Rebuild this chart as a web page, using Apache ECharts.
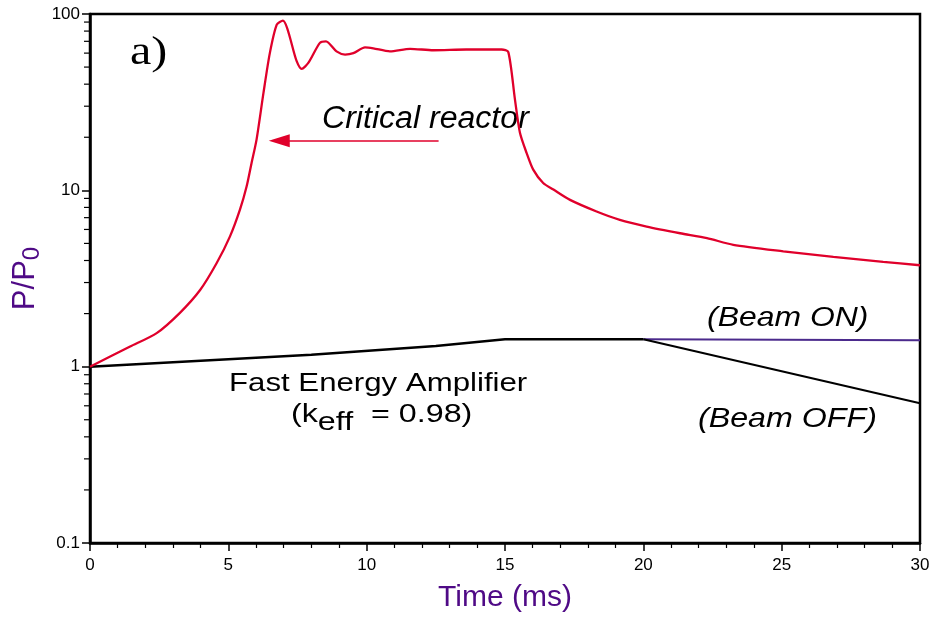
<!DOCTYPE html>
<html><head><meta charset="utf-8">
<script src="https://cdn.jsdelivr.net/npm/echarts@6/dist/echarts.min.js"></script>
<style>html,body{margin:0;padding:0;background:#fff}#c{width:935px;height:619px}</style>
</head><body><div id="c"></div>
<script>
// Critical reactor P/P0 vs time (ms)
var criticalT = [0, 1.45, 2.41, 3.25, 3.98, 4.58, 5.06, 5.42, 5.66, 5.84, 6.02, 6.27, 6.5, 6.75, 6.97, 7.47, 7.65, 7.89, 8.31, 8.53, 8.91, 9.22, 9.52, 9.94, 10.24, 10.84, 11.57, 12.41, 13.6, 14.88, 15.12, 15.36, 15.54, 15.78, 16.02, 16.38, 16.75, 17.35, 18.31, 19.15, 20.12, 21.33, 22.3, 23.25, 25.06, 26.87, 28.67, 30];
var criticalP = [1.0, 1.30, 1.55, 2.02, 2.72, 3.87, 5.48, 7.77, 10.5, 14.3, 19.4, 35.7, 60, 87, 91.7, 54, 48.8, 52.8, 68.6, 70, 61.4, 58.9, 60, 64.7, 63.9, 61.4, 63.5, 62.3, 62.9, 62.9, 60.8, 32.7, 21.2, 16.3, 13.1, 11.0, 10.1, 8.83, 7.59, 6.8, 6.23, 5.71, 5.36, 4.91, 4.51, 4.19, 3.93, 3.76];
// Fast Energy Amplifier (keff = 0.98)
var feaT = [0, 8, 12.5, 15, 20];
var feaP = [1.0, 1.17, 1.31, 1.43, 1.43];
var beamOnT = [20, 30];
var beamOnP = [1.43, 1.41];
var beamOffT = [20, 30];
var beamOffP = [1.43, 0.62];
var yMinorTicks = [0.2,0.3,0.4,0.5,0.6,0.7,0.8,0.9,2,3,4,5,6,7,8,9,20,30,40,50,60,70,80,90];
var yTickLabels = [0.1, 1, 10, 100];
var xTickLabels = [0, 5, 10, 15, 20, 25, 30];
// arrow annotation endpoints (data space)
var arrowFrom = [12.6, 19.1];
var arrowTo = [6.84, 19.1];

function zip(a, b) { return a.map(function (v, i) { return [v, b[i]]; }); }

var RED = '#e0002b';
var PURPLE = '#4f0a86';
var FONT = '"Liberation Sans", Arial, sans-serif';

var chart = echarts.init(document.getElementById('c'));
chart.setOption({
  animation: false,
  grid: { left: 90, right: 15, top: 14, bottom: 76, show: true, borderColor: '#000', borderWidth: 2.5,
    backgroundColor: 'transparent', containLabel: false, outerBoundsMode: 'none' },
  xAxis: {
    type: 'value', min: 0, max: 30, interval: 5,
    name: 'Time (ms)', nameLocation: 'middle', nameGap: 40,
    nameTextStyle: { color: PURPLE, fontSize: 30, fontFamily: FONT },
    axisLine: { show: true, lineStyle: { color: '#000', width: 2.5 } },
    axisTick: { show: true, length: 8, lineStyle: { color: '#000', width: 1.5 } },
    minorTick: { show: true, splitNumber: 5, length: 5, lineStyle: { color: '#000', width: 1.2 } },
    splitLine: { show: false },
    axisLabel: { color: '#000', fontSize: 17, fontFamily: FONT, margin: 14,
      formatter: function (v) { return xTickLabels.indexOf(v) >= 0 ? String(v) : ''; } }
  },
  yAxis: {
    type: 'log', logBase: 10, min: 0.1, max: 100,
    name: 'P/P{s|0}', nameLocation: 'middle', nameGap: 46, nameMoveOverlap: false,
    nameTextStyle: { color: PURPLE, fontSize: 31, fontFamily: FONT,
      rich: { s: { color: PURPLE, fontSize: 24, fontFamily: FONT, padding: [14, 0, 0, 0] } } },
    axisLine: { show: true, lineStyle: { color: '#000', width: 2.5 } },
    axisTick: { show: true, length: 8, lineStyle: { color: '#000', width: 1.5 } },
    minorTick: { show: false },
    splitLine: { show: false },
    axisLabel: { color: '#000', fontSize: 17, fontFamily: FONT, margin: 10,
      formatter: function (v) { var r = Math.round(v * 1000) / 1000; return yTickLabels.indexOf(r) >= 0 ? String(r) : ''; } }
  },
  series: [
    {
      type: 'line', data: zip(criticalT, criticalP), showSymbol: false, smooth: 0.25,
      lineStyle: { color: RED, width: 2.3 }, itemStyle: { color: RED }, z: 5,
      markLine: {
        silent: true, symbol: ['none', 'triangle'], symbolSize: [13, 21],
        itemStyle: { color: RED },
        lineStyle: { color: RED, width: 1.6, type: 'solid', opacity: 1 },
        label: { show: false },
        emphasis: { disabled: true },
        data: [[{ coord: arrowFrom }, { coord: arrowTo }]]
      }
    },
    { type: 'line', data: zip(feaT, feaP), showSymbol: false, lineStyle: { color: '#000', width: 2.5 }, z: 4 },
    { type: 'line', data: zip(beamOnT, beamOnP), showSymbol: false, lineStyle: { color: '#4b2a8c', width: 2 }, z: 3 },
    { type: 'line', data: zip(beamOffT, beamOffP), showSymbol: false, lineStyle: { color: '#000', width: 2 }, z: 4 },
    {
      type: 'custom', data: yMinorTicks.map(function (v) { return [0, v]; }), clip: false, silent: true,
      renderItem: function (params, api) {
        var p = api.coord([api.value(0), api.value(1)]);
        return { type: 'line', shape: { x1: p[0] - 6, y1: p[1], x2: p[0], y2: p[1] }, style: { stroke: '#000', lineWidth: 1.2 } };
      }
    }
  ],
  graphic: [
    { type: 'text', left: 130, top: 33, scaleX: 1.2, style: { text: 'a)', font: '40px "Liberation Serif", "Times New Roman", serif', fill: '#000' } },
    { type: 'text', left: 322, top: 104, scaleX: 1.035, style: { text: 'Critical reactor', font: 'italic 31px ' + FONT, fill: '#000' } },
    { type: 'text', left: 229, top: 371, scaleX: 1.2, style: { text: 'Fast Energy Amplifier', font: '26px ' + FONT, fill: '#000' } },
    { type: 'text', left: 291, top: 402, scaleX: 1.24, style: { text: '(k{s|eff}  = 0.98)', font: '26px ' + FONT, fill: '#000',
        rich: { s: { font: '26px ' + FONT, fill: '#000', padding: [16, 0, 0, 0] } } } },
    { type: 'text', left: 707, top: 304, scaleX: 1.14, style: { text: '(Beam ON)', font: 'italic 28px ' + FONT, fill: '#000' } },
    { type: 'text', left: 698, top: 405, scaleX: 1.15, style: { text: '(Beam OFF)', font: 'italic 28px ' + FONT, fill: '#000' } }
  ]
});
</script>
</body></html>
